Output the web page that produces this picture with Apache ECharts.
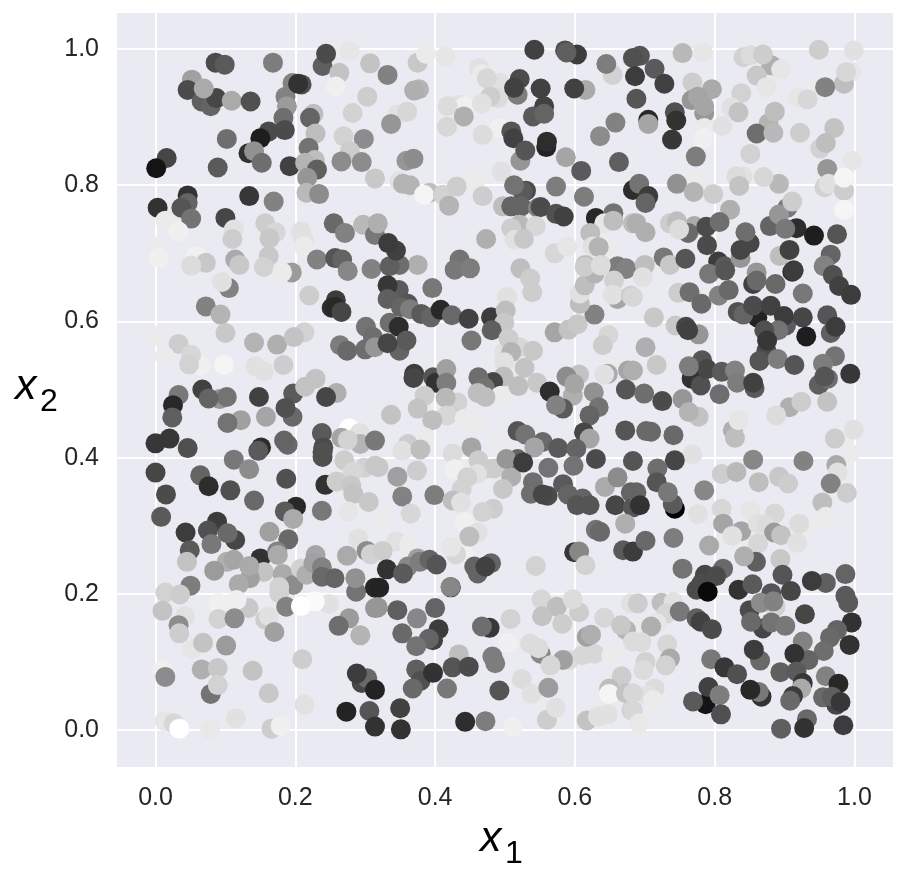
<!DOCTYPE html>
<html>
<head>
<meta charset="utf-8">
<style>html,body{margin:0;padding:0;background:#fff}#chart{width:910px;height:881px}</style>
<script src="https://cdn.jsdelivr.net/npm/echarts@6/dist/echarts.min.js"></script>
</head>
<body>
<div id="chart"></div>
<script>
// [x1, x2, grey level], one list per part of the plot
var topLeft = [[.086,.980,75],[.099,.977,90],[.168,.980,125],[.052,.955,160],[.046,.940,75],[.066,.923,95],[.079,.916,100],[.087,.928,70],[.109,.924,170],[.069,.942,170],[.136,.923,80],[.196,.950,130],[.186,.930,130],[.209,.948,80],[.204,.949,50],[.188,.916,155],[.183,.899,110],[.185,.881,75],[.162,.879,75],[.150,.869,30],[.102,.868,110],[.133,.847,50],[.141,.850,145],[.152,.833,110],[.089,.826,90],[.016,.840,70],[.001,.825,20],[.192,.828,65],[.226,.905,190],[.221,.899,100],[.229,.876,190],[.219,.855,115],[.228,.837,190],[.214,.833,180],[.231,.823,95],[.217,.811,150],[.216,.789,185],[.234,.787,140],[.239,.975,95],[.255,.999,235],[.244,.993,75],[.278,.997,230],[.263,.965,195],[.258,.945,240],[.307,.979,195],[.303,.930,205],[.282,.906,210],[.269,.872,210],[.298,.868,140],[.278,.850,205],[.266,.835,140],[.295,.834,140],[.314,.810,200],[.046,.785,50],[.046,.774,100],[.003,.767,50],[.037,.767,85],[.051,.751,115],[.014,.748,235],[.033,.732,240],[.100,.752,70],[.134,.784,55],[.169,.776,130],[.255,.744,105],[.271,.730,130],[.297,.742,185],[.314,.727,120],[.157,.744,205],[.112,.735,225],[.110,.721,205],[.172,.731,215],[.163,.722,200],[.208,.732,225],[.212,.720,225],[.212,.710,235],[.002,.710,235],[.005,.693,240],[.058,.696,240],[.072,.686,200],[.114,.691,170],[.120,.683,200],[.162,.696,200],[.231,.691,130],[.257,.693,85],[.267,.691,100]];
var midLeft = [[.051,.682,220],[.155,.680,210],[.195,.672,155],[.181,.672,235],[.105,.649,130],[.095,.658,225],[.072,.622,130],[.093,.610,180],[.220,.638,205],[.275,.674,135],[.309,.677,130],[.258,.631,60],[.252,.620,45],[.257,.621,40],[.266,.614,70],[.301,.592,115],[.311,.577,110],[.264,.565,125],[.274,.557,105],[.300,.559,110],[.314,.562,150],[0,.579,235],[.033,.567,205],[.013,.549,235],[.064,.535,240],[.051,.551,215],[.048,.537,210],[.098,.536,245],[.100,.583,200],[.141,.569,180],[.174,.566,175],[.213,.584,210],[.198,.577,195],[.155,.527,225],[.143,.534,225],[.183,.536,205],[.033,.492,120],[.067,.500,65],[.092,.486,150],[.102,.489,115],[.076,.487,100],[.148,.489,65],[.197,.494,90],[.259,.495,175],[.214,.504,195],[.229,.516,195],[.244,.489,70],[.025,.477,40],[.024,.459,95],[.196,.460,105],[.186,.473,80],[.277,.443,255],[.158,.460,165],[.122,.455,160],[.103,.451,115],[.292,.436,225],[.293,.420,180],[.314,.425,120],[.238,.436,90],[.266,.429,165],[.275,.426,210],[.240,.415,75],[.239,.408,80],[.239,.401,80],[.189,.419,105],[.184,.425,100],[.020,.428,55],[0,.421,55],[.046,.414,80],[.151,.415,45],[.147,.410,90],[.112,.397,120],[.134,.383,140],[.270,.396,205],[.298,.385,210],[.314,.388,200],[.282,.379,215],[0,.378,70],[.064,.374,100],[.076,.358,45],[.107,.352,80],[.015,.346,75],[.187,.369,80],[.243,.360,50],[.259,.365,205],[.280,.359,200],[.283,.347,195],[.305,.335,200],[.141,.337,105],[.201,.328,40],[.185,.321,90],[.238,.322,120],[.276,.321,230]];
var bottomLeft = [[.008,.313,90],[.088,.306,60],[.043,.290,60],[.075,.293,80],[.080,.273,120],[.114,.279,70],[.103,.289,105],[.163,.291,160],[.190,.280,105],[.197,.310,170],[.049,.264,90],[.045,.247,195],[.290,.281,225],[.302,.263,140],[.274,.256,170],[.308,.258,210],[.229,.257,165],[.150,.252,50],[.174,.262,130],[.175,.257,170],[.102,.247,175],[.112,.250,165],[.084,.234,155],[.155,.232,195],[.135,.223,160],[.134,.241,170],[.182,.229,170],[.119,.214,170],[.197,.213,140],[.177,.210,210],[.177,.201,210],[.208,.237,210],[.216,.228,175],[.226,.245,160],[.238,.239,130],[.238,.225,105],[.256,.223,100],[.287,.203,115],[.286,.223,145],[.314,.209,40],[.050,.212,125],[.014,.202,210],[.035,.199,205],[.133,.179,200],[.090,.186,240],[.116,.191,240],[.010,.175,195],[.042,.167,225],[.090,.163,210],[.113,.164,140],[.187,.181,130],[.248,.185,225],[.228,.189,250],[.208,.182,255],[.314,.179,150],[.157,.162,205],[.162,.167,225],[.170,.144,160],[.277,.164,155],[.262,.153,110],[.293,.139,180],[.033,.154,140],[.034,.142,205],[.053,.119,230],[.068,.128,195],[.101,.124,155],[.210,.104,205],[.010,.088,240],[.014,.078,140],[.066,.089,175],[.089,.091,200],[.139,.087,195],[.295,.069,70],[.303,.076,105],[.288,.083,60],[.314,.059,35],[.079,.053,115],[.089,.066,210],[.162,.054,200],[.213,.037,225],[.273,.027,35],[.306,.028,85],[.314,.005,50],[.115,.017,225],[.013,.013,230],[.026,.010,215],[.034,.002,255],[.078,.001,232],[.166,.002,205],[.179,.006,240]];
var topMiddle = [[.332,.962,130],[.375,.980,200],[.387,.993,235],[.415,.989,230],[.377,.941,180],[.370,.939,175],[.346,.904,225],[.360,.908,215],[.337,.890,150],[.463,.972,225],[.467,.963,235],[.493,.950,225],[.474,.957,215],[.490,.928,220],[.479,.930,205],[.434,.918,225],[.442,.916,240],[.418,.916,220],[.467,.920,225],[.441,.901,175],[.417,.886,215],[.492,.884,240],[.468,.874,220],[.521,.956,75],[.518,.933,125],[.513,.943,65],[.551,.942,65],[.542,.999,65],[.586,.998,80],[.603,.992,60],[.588,.995,95],[.654,.962,210],[.645,.978,125],[.615,.940,170],[.599,.942,65],[.556,.916,65],[.540,.901,90],[.556,.905,100],[.658,.892,130],[.636,.872,140],[.509,.879,85],[.512,.869,65],[.522,.836,150],[.529,.851,85],[.559,.856,35],[.560,.864,45],[.587,.841,165],[.609,.821,90],[.663,.834,95],[.359,.836,150],[.369,.839,140],[.349,.806,225],[.354,.802,180],[.364,.800,180],[.392,.789,190],[.384,.786,245],[.411,.786,210],[.431,.798,205],[.458,.808,235],[.468,.784,205],[.420,.770,180],[.495,.820,225],[.530,.792,75],[.525,.791,90],[.513,.800,115],[.573,.798,125],[.613,.783,125],[.497,.769,190],[.509,.769,100],[.523,.769,100],[.547,.767,130],[.551,.768,75],[.573,.758,80],[.584,.754,65],[.630,.752,40],[.655,.759,115],[.642,.744,230],[.655,.748,190],[.683,.744,190],[.622,.730,190],[.653,.703,235],[.625,.710,225],[.634,.709,180],[.521,.742,185],[.544,.740,215],[.509,.737,205],[.514,.720,225],[.527,.721,200],[.473,.721,175],[.571,.700,215],[.589,.710,230],[.522,.678,190],[.615,.683,190],[.637,.683,210],[.661,.681,125],[.673,.678,120],[.435,.691,115],[.428,.676,120],[.450,.678,125],[.375,.683,175],[.349,.683,110],[.335,.681,95],[.318,.744,175],[.344,.704,65],[.333,.715,60]];
var midMiddle = [[.536,.663,205],[.539,.643,205],[.503,.636,225],[.396,.649,120],[.348,.646,90],[.332,.653,55],[.332,.633,95],[.361,.626,85],[.351,.621,100],[.364,.618,125],[.380,.611,90],[.394,.606,100],[.408,.617,40],[.424,.609,105],[.448,.604,65],[.480,.606,60],[.501,.616,190],[.499,.598,200],[.481,.587,95],[.335,.598,110],[.348,.592,45],[.349,.557,100],[.359,.572,90],[.332,.568,70],[.452,.572,120],[.521,.562,215],[.499,.555,225],[.505,.575,205],[.509,.555,180],[.540,.557,200],[.499,.540,225],[.528,.532,195],[.498,.519,190],[.519,.505,190],[.546,.510,200],[.571,.584,165],[.591,.588,195],[.604,.596,200],[.628,.610,130],[.607,.626,190],[.607,.641,225],[.614,.653,190],[.628,.670,180],[.614,.680,205],[.637,.682,220],[.673,.677,130],[.656,.660,210],[.661,.633,165],[.654,.639,225],[.680,.638,205],[.648,.580,215],[.640,.565,205],[.606,.522,195],[.588,.519,140],[.597,.491,175],[.599,.508,165],[.654,.538,235],[.647,.523,170],[.642,.522,225],[.676,.528,165],[.370,.523,60],[.369,.517,70],[.397,.518,85],[.401,.510,50],[.416,.530,160],[.416,.510,125],[.385,.491,205],[.432,.481,210],[.415,.488,185],[.375,.472,195],[.417,.462,215],[.396,.455,190],[.442,.457,235],[.458,.451,235],[.337,.463,195],[.483,.511,70],[.462,.518,110],[.471,.503,115],[.461,.495,190],[.494,.491,235],[.472,.489,190],[.564,.497,45],[.583,.472,90],[.573,.477,130],[.627,.496,145],[.634,.474,115],[.621,.462,100],[.673,.500,85],[.613,.437,70],[.621,.428,165],[.672,.440,85],[.518,.439,85],[.529,.434,115],[.554,.423,105],[.542,.415,165],[.576,.414,90],[.602,.413,100],[.630,.398,75],[.598,.388,115],[.683,.395,85],[.385,.430,235],[.361,.420,205],[.353,.410,225],[.379,.412,190],[.452,.415,165],[.494,.419,235],[.425,.406,220],[.462,.396,205],[.428,.383,240],[.485,.384,205],[.473,.384,205],[.460,.376,225],[.446,.371,210],[.509,.372,175],[.518,.398,100],[.502,.398,150],[.526,.393,60],[.562,.385,115],[.497,.354,200],[.438,.354,210],[.346,.372,160],[.374,.381,205],[.353,.343,130],[.399,.345,125],[.319,.386,200],[.540,.364,110],[.537,.347,110],[.561,.344,75],[.554,.346,70],[.583,.361,90],[.590,.346,100],[.611,.340,100],[.621,.330,85],[.603,.330,85],[.643,.357,170],[.661,.371,140],[.658,.330,70],[.680,.349,100],[.683,.327,85],[.425,.337,190],[.437,.334,225],[.483,.325,205],[.468,.320,210],[.365,.318,215]];
var bottomMiddle = [[.325,.313,235],[.344,.277,225],[.363,.273,235],[.325,.263,205],[.331,.236,50],[.375,.252,160],[.361,.240,135],[.378,.247,125],[.392,.250,100],[.402,.243,85],[.354,.230,90],[.320,.209,35],[.318,.180,150],[.346,.176,95],[.374,.164,135],[.400,.179,100],[.405,.148,60],[.353,.142,105],[.397,.132,65],[.391,.134,100],[.373,.123,115],[.373,.089,95],[.379,.072,80],[.368,.061,105],[.397,.084,50],[.417,.061,120],[.350,.032,65],[.351,.001,50],[.443,.012,45],[.472,.013,125],[.511,.004,240],[.4225,.2095,50],[.422,.210,135],[.443,.255,240],[.430,.258,215],[.423,.269,230],[.442,.305,240],[.461,.290,225],[.449,.284,190],[.456,.240,100],[.461,.230,100],[.480,.245,100],[.472,.240,65],[.544,.241,210],[.599,.261,55],[.606,.262,135],[.615,.242,210],[.630,.294,115],[.636,.291,105],[.672,.303,175],[.669,.264,90],[.683,.262,60],[.508,.163,210],[.478,.150,55],[.467,.152,110],[.505,.128,240],[.551,.112,135],[.536,.127,220],[.548,.120,220],[.434,.111,190],[.425,.092,85],[.448,.093,75],[.486,.098,125],[.482,.108,125],[.492,.058,85],[.524,.075,220],[.538,.053,225],[.562,.062,155],[.592,.103,220],[.583,.103,160],[.565,.095,215],[.611,.110,215],[.628,.112,215],[.652,.109,235],[.560,.015,205],[.573,.033,225],[.617,.014,195],[.633,.020,225],[.647,.023,225],[.552,.192,215],[.574,.181,190],[.553,.167,195],[.582,.156,205],[.606,.173,205],[.597,.192,220],[.642,.165,215],[.673,.147,180],[.666,.154,200],[.617,.137,160],[.623,.140,175],[.667,.079,205],[.649,.061,190],[.649,.053,245],[.673,.054,195],[.681,.029,205],[.680,.186,225],[.683,.130,220]];
var topRight = [[.693,.990,85],[.683,.987,80],[.686,.960,60],[.688,.927,85],[.714,.971,90],[.728,.949,65],[.754,.994,185],[.783,.995,230],[.768,.951,205],[.796,.941,170],[.767,.925,150],[.776,.930,165],[.785,.906,150],[.785,.916,165],[.743,.907,80],[.745,.895,50],[.705,.896,40],[.705,.890,165],[.739,.867,55],[.785,.884,235],[.784,.869,240],[.773,.842,125],[.811,.887,225],[.841,.988,210],[.851,.991,220],[.881,.976,175],[.869,.992,205],[.895,.970,230],[.860,.961,200],[.874,.944,230],[.838,.935,210],[.824,.914,225],[.834,.907,195],[.877,.891,180],[.886,.908,190],[.860,.876,110],[.884,.877,185],[.922,.877,205],[.949,.999,205],[.999,.998,225],[.996,.967,230],[.985,.949,190],[.988,.966,215],[.943,.943,235],[.958,.944,130],[.919,.929,230],[.933,.926,215],[.971,.884,195],[.951,.854,210],[.959,.862,190],[.997,.836,230],[.961,.824,150],[.851,.846,210],[.957,.797,210],[.963,.802,225],[.985,.792,205],[.985,.811,245],[.985,.764,245],[.892,.802,185],[.870,.812,215],[.840,.813,225],[.831,.813,220],[.835,.799,195],[.779,.806,235],[.746,.802,145],[.770,.790,180],[.798,.787,205],[.683,.793,45],[.692,.802,115],[.705,.784,60],[.701,.774,100],[.822,.764,175],[.771,.740,170],[.762,.730,105],[.788,.739,75],[.807,.746,110],[.789,.712,75],[.736,.744,205],[.746,.747,190],[.749,.735,220],[.688,.744,175],[.701,.731,175],[.727,.694,120],[.700,.683,190],[.736,.683,200],[.758,.692,85],[.805,.688,60],[.814,.681,90],[.850,.715,70],[.844,.731,110],[.837,.693,150],[.837,.705,70],[.917,.737,45],[.879,.740,100],[.904,.767,120],[.892,.757,150],[.901,.736,120],[.911,.776,205],[.942,.726,30],[.975,.728,85],[.893,.696,190],[.907,.705,65],[.966,.698,100],[.956,.681,120],[.911,.673,50]];
var midRight = [[.683,.636,215],[.697,.665,225],[.748,.642,205],[.764,.643,110],[.781,.626,105],[.713,.606,200],[.744,.594,200],[.777,.581,150],[.759,.592,70],[.762,.587,65],[.792,.670,120],[.815,.675,85],[.806,.638,130],[.820,.646,105],[.860,.672,150],[.855,.655,65],[.860,.660,105],[.887,.655,105],[.913,.675,60],[.926,.641,120],[.957,.682,130],[.969,.668,80],[.978,.652,65],[.995,.639,60],[.861,.606,35],[.833,.614,80],[.841,.610,100],[.855,.623,75],[.880,.623,65],[.902,.594,90],[.899,.608,60],[.926,.606,70],[.961,.609,85],[.891,.587,115],[.871,.587,80],[.874,.557,75],[.875,.572,55],[.966,.583,95],[.973,.592,60],[.931,.578,30],[.701,.562,175],[.717,.536,200],[.683,.528,175],[.864,.542,85],[.890,.545,125],[.914,.536,85],[.972,.549,115],[.955,.538,125],[.994,.523,55],[.949,.507,95],[.962,.516,110],[.957,.519,85],[.767,.516,50],[.780,.506,80],[.782,.543,85],[.789,.530,70],[.763,.534,125],[.810,.526,90],[.829,.528,130],[.832,.510,125],[.857,.502,90],[.855,.510,65],[.807,.493,110],[.699,.494,110],[.725,.483,75],[.754,.486,150],[.777,.460,195],[.763,.467,180],[.907,.474,175],[.924,.482,205],[.888,.462,220],[.961,.482,195],[.826,.440,175],[.829,.429,190],[.834,.455,230],[.999,.441,225],[.972,.428,205],[.994,.406,235],[.702,.439,105],[.709,.438,105],[.741,.433,105],[.768,.405,225],[.743,.396,70],[.718,.384,110],[.717,.364,85],[.743,.325,0],[.740,.332,90],[.733,.349,120],[.688,.349,100],[.693,.330,50],[.785,.352,135],[.855,.397,135],[.927,.395,130],[.974,.389,170],[.976,.378,225],[.966,.362,130],[.989,.348,205],[.954,.334,190],[.810,.376,205],[.831,.379,185],[.863,.364,190],[.892,.372,200],[.905,.362,205],[.810,.325,215],[.851,.322,230],[.776,.317,225],[.886,.318,215]];
var bottomRight = [[.701,.278,105],[.741,.282,125],[.792,.271,170],[.838,.292,165],[.812,.303,165],[.825,.285,225],[.862,.303,225],[.874,.301,220],[.885,.290,155],[.895,.286,195],[.936,.301,235],[.921,.303,220],[.959,.313,235],[.918,.275,225],[.862,.274,215],[.859,.247,95],[.842,.255,175],[.894,.251,200],[.754,.237,115],[.812,.237,105],[.786,.228,70],[.781,.215,75],[.802,.226,75],[.774,.206,75],[.790,.203,10],[.834,.206,50],[.854,.214,90],[.897,.228,85],[.959,.216,95],[.939,.219,60],[.987,.229,100],[.881,.201,85],[.909,.204,70],[.991,.187,90],[.987,.197,90],[.929,.170,70],[.850,.176,75],[.887,.181,210],[.866,.187,140],[.884,.189,130],[.869,.149,70],[.852,.159,105],[.881,.158,115],[.901,.153,120],[.996,.158,50],[.690,.186,205],[.724,.187,190],[.741,.188,225],[.731,.171,215],[.750,.174,120],[.774,.164,95],[.780,.159,65],[.796,.148,75],[.717,.157,230],[.709,.152,175],[.695,.129,220],[.732,.126,215],[.736,.105,170],[.730,.095,210],[.701,.100,210],[.698,.088,220],[.714,.061,220],[.703,.051,225],[.712,.044,235],[.683,.054,215],[.683,.029,215],[.692,.010,232],[.975,.147,100],[.965,.136,105],[.956,.116,110],[.926,.130,130],[.993,.125,50],[.865,.102,105],[.856,.118,60],[.934,.103,100],[.914,.112,50],[.795,.104,120],[.814,.092,55],[.832,.082,80],[.894,.085,95],[.917,.086,90],[.959,.079,130],[.977,.068,40],[.926,.069,55],[.924,.061,170],[.912,.050,60],[.908,.043,105],[.787,.038,20],[.791,.063,65],[.807,.051,125],[.769,.042,90],[.809,.023,80],[.867,.049,50],[.863,.056,120],[.851,.059,40],[.955,.048,105],[.974,.037,70],[.968,.049,95],[.980,.041,55],[.984,.007,60],[.932,.016,105],[.928,.003,50],[.895,.002,95]];
var tickLabels = [0, 0.2, 0.4, 0.6, 0.8, 1.0];

var points = [].concat(topLeft, midLeft, bottomLeft, topMiddle, midMiddle, bottomMiddle, topRight, midRight, bottomRight);

function makeAxis(min, max, margin, padding) {
    return {
        type: 'value'
        , min: min
        , max: max
        , axisLine: { show: false }
        , axisTick: { show: false, customValues: tickLabels }
        , axisLabel: {
            customValues: tickLabels
            , margin: margin
            , padding: padding
            , fontFamily: 'Liberation Sans'
            , fontSize: 25
            , color: '#262626'
            , formatter: function (v) { return v.toFixed(1); }
        }
        , splitLine: { show: true, lineStyle: { color: '#fff', width: 2 } }
    };
}

// 带下标的坐标轴名称
function axisName(left, top, sub) {
    return [
        { type: 'text', left: left, top: top, style: { text: 'x', font: 'italic 43px "Liberation Sans"', fill: '#000' } },
        { type: 'text', left: left + 25, top: top + 20, style: { text: sub, font: '32px "Liberation Sans"', fill: '#000' } }
    ];
}

var chart = echarts.init(document.getElementById('chart'), null, { renderer: 'canvas' });
chart.setOption({
    animation: false
    , backgroundColor: '#fff'
    , grid: { left: 117, right: 17, top: 13, bottom: 114, backgroundColor: '#eaeaf2', show: true, borderWidth: 0 }
    , xAxis: makeAxis(-0.0551, 1.0551, 19, 0)
    , yAxis: makeAxis(-0.0543, 1.0529, 18, [3, 0, 0, 0])
    , graphic: axisName(480, 818, '1').concat(axisName(15, 366, '2'))
    , series: [{
        type: 'scatter'
        , symbolSize: 20
        , data: points
        , encode: { x: 0, y: 1 }
        , itemStyle: {
            opacity: 1
            , color: function (p) {
                var g = p.data[2];
                return 'rgb(' + g + ',' + g + ',' + g + ')';
            }
        }
    }]
});
</script>
</body>
</html>
